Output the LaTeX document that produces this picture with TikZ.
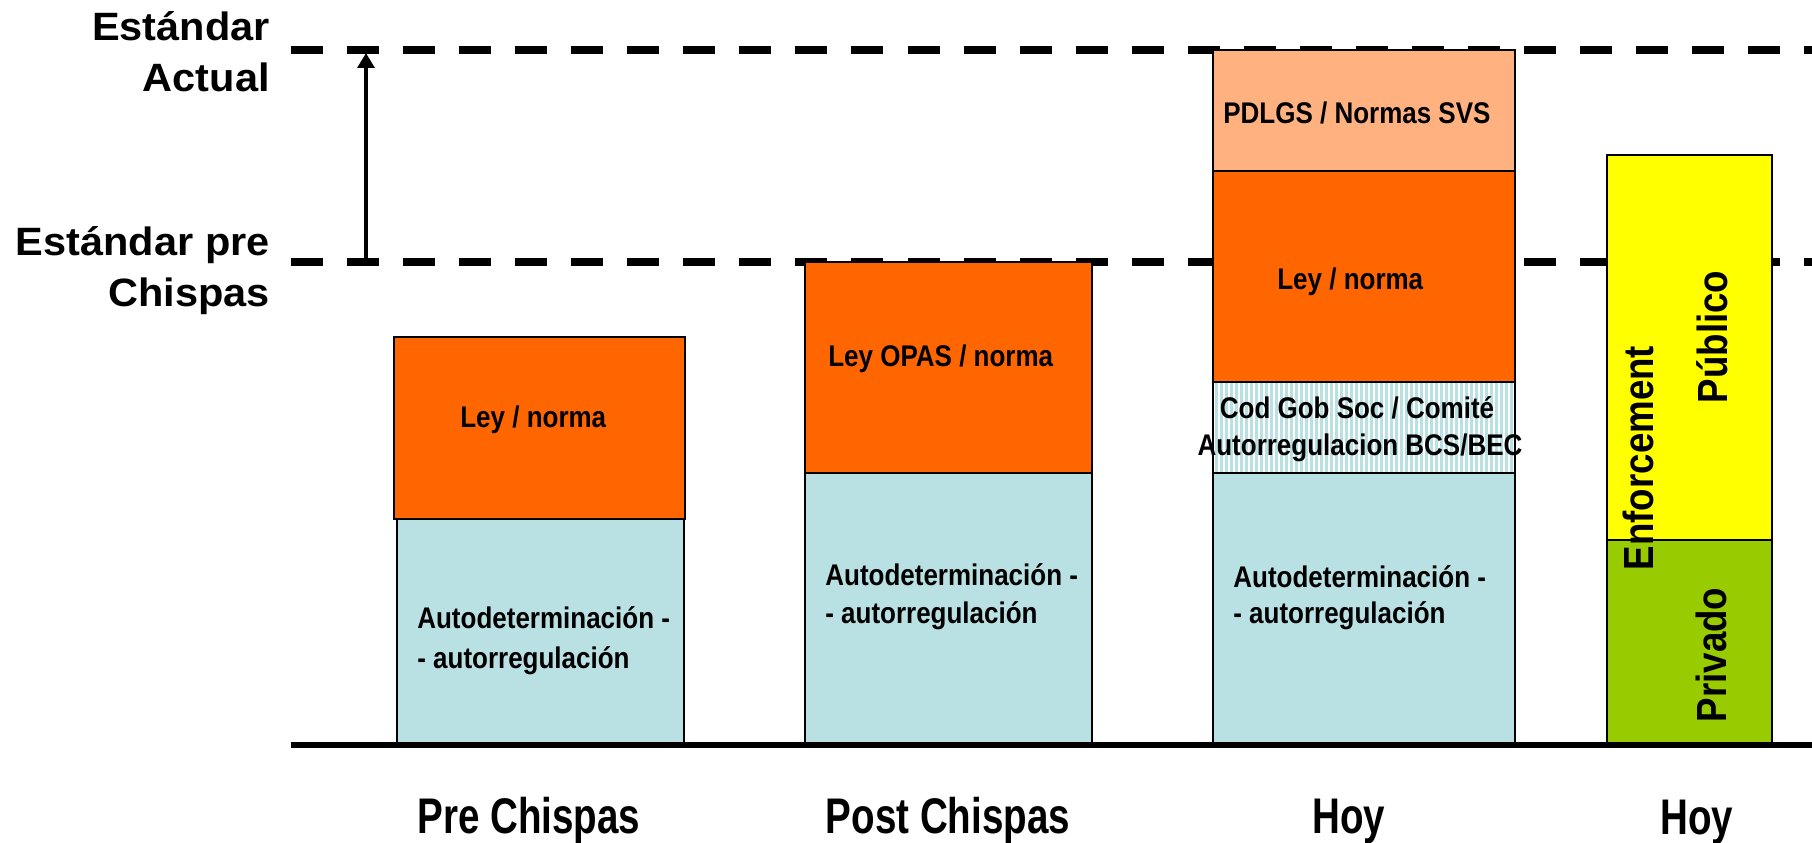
\documentclass[tikz,border=0pt]{standalone}
\usepackage{fontspec}
\setmainfont{Liberation Sans}
\newfontfamily\labelfont{Liberation Sans}[FakeStretch=1.05]
\newfontfamily\barfont{Liberation Sans}[FakeStretch=0.87]
\newfontfamily\axisfont{Liberation Sans}[FakeStretch=0.77]
\usetikzlibrary{arrows.meta}
\definecolor{naranja}{RGB}{255,102,0}
\definecolor{naranjaclaro}{RGB}{255,178,128}
\definecolor{celeste}{RGB}{185,224,227}
\definecolor{amarillo}{RGB}{255,255,0}
\definecolor{verde}{RGB}{153,204,0}

\begin{document}
\begin{tikzpicture}[x=0.02cm, y=-0.02cm, font=\bfseries]
	
	% Estilos del gráfico (coordenadas en píxeles, eje y hacia abajo)
	\tikzset{
		nivel/.style={line width=4pt, dash pattern=on 18.2pt off 13.7pt},
		bloque/.style={draw=black, line width=0.8pt},
		rayas/.style={celeste, line width=1.7pt},
		etiq/.style={font=\labelfont\bfseries\fontsize{22.5}{27}\selectfont, inner sep=0pt, anchor=base east},
		texto/.style={font=\barfont\bfseries\fontsize{17}{20}\selectfont, inner sep=0pt, anchor=base west},
		vertical/.style={font=\barfont\bfseries\fontsize{24}{28}\selectfont, inner sep=0pt, rotate=90, anchor=base},
		periodo/.style={font=\axisfont\bfseries\fontsize{28.5}{34}\selectfont, inner sep=0pt, anchor=base}
	}
	\useasboundingbox (0,0) rectangle (1812,842);
	
	% ----------------------------------------------------
	% NIVELES DE ESTÁNDAR
	% ----------------------------------------------------
	\draw[nivel] (291,50) -- (1812,50);
	\draw[nivel] (291,262) -- (1812,262);
	
	\coordinate (antes) at (366,262);
	\coordinate (ahora) at (366,53);
	\draw[line width=2.3pt, -{Triangle[length=8.5pt,width=9.5pt]}] (antes) -- (ahora);
	
	\node[etiq] (actual1) at (270,40) {Estándar};
	\node[etiq] (actual2) at (270,91) {Actual};
	\node[etiq] (pre1) at (270,255) {Estándar pre};
	\node[etiq] (pre2) at (270,306) {Chispas};
	
	% ----------------------------------------------------
	% PRE CHISPAS
	% ----------------------------------------------------
	\draw[bloque, fill=celeste] (397,519) rectangle (684,745);
	\draw[bloque, fill=naranja] (394,337) rectangle (685,519);
	\node[texto] (ley1) at (460,427) {Ley / norma};
	\node[texto] (auto1a) at (417,628) {Autodeterminación -};
	\node[texto] (auto1b) at (417,668) {- autorregulación};
	
	% ----------------------------------------------------
	% POST CHISPAS
	% ----------------------------------------------------
	\draw[bloque, fill=celeste] (805,473) rectangle (1092,745);
	\draw[bloque, fill=naranja] (805,262) rectangle (1092,473);
	\node[texto] (ley2) at (828,366) {Ley OPAS / norma};
	\node[texto] (auto2a) at (825,585) {Autodeterminación -};
	\node[texto] (auto2b) at (825,623) {- autorregulación};
	
	% ----------------------------------------------------
	% HOY (por capas)
	% ----------------------------------------------------
	\draw[bloque, fill=celeste] (1213,473) rectangle (1515,745);
	\fill[white] (1213,382) rectangle (1515,473);
	\foreach \x in {1216,1221,...,1513}
		\draw[rayas] (\x,382) -- (\x,473);
	\draw[bloque] (1213,382) rectangle (1515,473);
	\draw[bloque, fill=naranja] (1213,171) rectangle (1515,382);
	\draw[bloque, fill=naranjaclaro] (1213,50) rectangle (1515,171);
	
	\node[texto] (pdlgs) at (1223,123) {PDLGS / Normas SVS};
	\node[texto] (ley3) at (1277,289) {Ley / norma};
	\node[texto, anchor=base] (cod) at (1357,418) {Cod Gob Soc / Comité};
	\node[texto, anchor=base] (bcs) at (1360,455) {Autorregulacion BCS/BEC};
	\node[texto] (auto3a) at (1233,587) {Autodeterminación -};
	\node[texto] (auto3b) at (1233,623) {- autorregulación};
	
	% ----------------------------------------------------
	% HOY (enforcement)
	% ----------------------------------------------------
	\draw[bloque, fill=verde] (1607,540) rectangle (1772,745);
	\draw[bloque, fill=amarillo] (1607,155) rectangle (1772,540);
	\node[vertical] (publico) at (1727,337) {Público};
	\node[vertical] (privado) at (1726,655) {Privado};
	\node[vertical] (enforce) at (1653,458) {Enforcement};
	
	% Línea base
	\draw[line width=3.4pt] (291,745) -- (1812,745);
	
	% Períodos
	\node[periodo] (t1) at (529,833) {Pre Chispas};
	\node[periodo] (t2) at (948,833) {Post Chispas};
	\node[periodo] (t3) at (1349,833) {Hoy};
	\node[periodo] (t4) at (1697,834) {Hoy};
	
\end{tikzpicture}
\end{document}
